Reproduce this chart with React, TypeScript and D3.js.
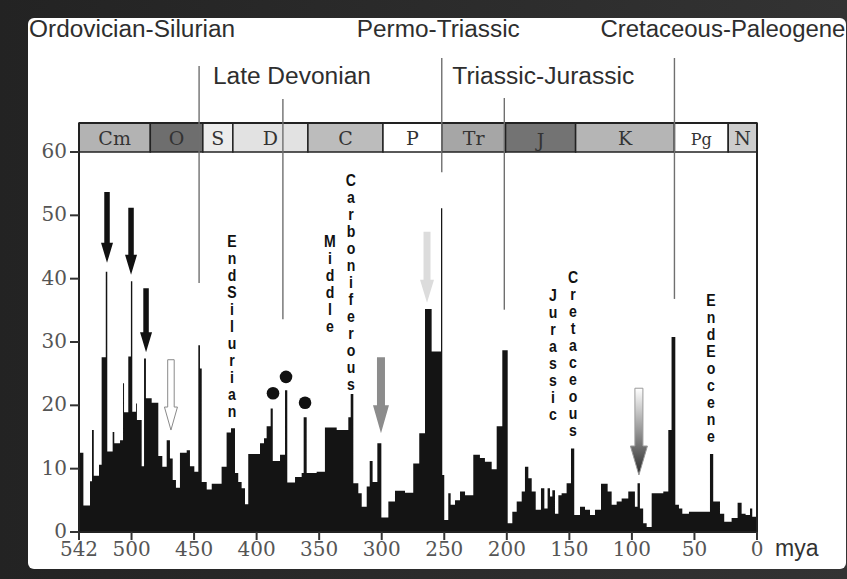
import React from 'react';
import * as d3 from 'd3';

// extinction intensity (% of genera), step starts in mya
const binStart = [
  542, 538.5, 533.2, 531.6, 530.2, 526, 523.9, 520.6, 519.4, 515.1, 513.8, 509.2, 506.8, 506, 502.6,
  500.5, 499.4, 496.4, 495.7, 491.9, 490, 488.5, 483.9, 478.6, 475.4, 471.9, 469.3, 467.1, 464.5,
  461.3, 455.9, 453.3, 449.8, 446.6, 445.3, 443.9, 439.9, 435.9, 428, 424, 420.5, 417.3, 414.7, 412,
  409.3, 406.7, 397.3, 394.1, 392, 388.8, 387.1, 381.3, 377.3, 375.5, 369.3, 364, 362.4, 360, 352,
  345.4, 336, 326.7, 324.8, 322.7, 318.7, 316, 312, 309.6, 307.3, 303.5, 300.3, 294.7, 289.4, 281.4,
  274.8, 270, 265.4, 260.1, 252.6, 251.6, 250, 246.8, 244.9, 241.4, 237.4, 233.4, 226.8, 221.5,
  217.5, 212.1, 208.1, 203.6, 199.3, 195.6, 192.1, 188.1, 185.5, 182.8, 180.1, 176.9, 172.7, 170,
  167.4, 165.5, 163.6, 161.5, 158.8, 156.2, 152.2, 148.7, 146.1, 141.5, 137.5, 133.5, 129.5, 124.7,
  119.4, 116.2, 112.2, 108.2, 102.9, 97.6, 95.5, 93.6, 91, 88.2, 84.2, 74.9, 70.9, 68.3, 65.3, 62.4,
  59.7, 54.4, 37.6, 35, 29.6, 26.2, 20.3, 15.5, 12.3, 9.1, 5.6, 3.8,
];
const extinctionPct = [
  12.5, 4.2, 8.0, 16.1, 8.9, 10.6, 27.6, 41.1, 12.7, 15.8, 14.0, 14.5, 23.5, 18.9, 27.7,
  39.6, 19.0, 20.3, 17.7, 10.4, 27.4, 21.1, 20.4, 12.0, 10.3, 14.5, 11.6, 8.2, 7.0,
  12.5, 12.9, 10.4, 9.5, 29.5, 25.8, 7.9, 6.7, 7.6, 10.3, 15.7, 16.4, 9.3, 7.9, 6.9,
  4.4, 12.3, 14.0, 14.8, 16.7, 19.5, 11.2, 12.2, 22.4, 7.8, 8.7, 9.3, 18.1, 9.3, 9.5,
  16.5, 16.1, 18.1, 21.8, 7.7, 6.1, 4.0, 7.2, 11.2, 7.9, 14.0, 2.3, 4.8, 6.5, 6.2,
  10.8, 15.6, 35.2, 28.5, 51.1, 9.0, 1.9, 6.1, 4.3, 5.0, 6.4, 5.8, 12.2, 11.7,
  11.1, 9.9, 16.7, 28.7, 1.4, 3.2, 4.8, 6.4, 10.3, 8.5, 6.4, 3.5, 6.9, 3.7,
  6.9, 5.6, 6.6, 2.9, 5.8, 6.1, 7.7, 13.2, 2.7, 4.0, 3.5, 2.7, 3.5, 7.6,
  6.4, 4.3, 4.8, 5.3, 6.4, 4.0, 7.7, 3.7, 1.4, 0.8, 6.1, 6.4, 16.1, 30.8, 4.3, 3.7,
  2.9, 3.2, 12.3, 4.8, 2.9, 1.6, 2.2, 4.6, 2.9, 2.7, 3.7, 2.4,
];

const periodNames = ['Cm', 'O', 'S', 'D', 'C', 'P', 'Tr', 'J', 'K', 'Pg', 'N'];
const periodStart = [542, 485, 443, 419, 359, 299, 252, 201, 145, 66, 23];
const periodShade = ['#b3b3b3', '#6e6e6e', '#ececec', '#e2e2e2', '#bcbcbc', '#ffffff', '#a6a6a6', '#737373', '#b5b5b5', '#ffffff', '#cdcdcd'];

const eventNames = ['Ordovician-Silurian', 'Late Devonian', 'Permo-Triassic', 'Triassic-Jurassic', 'Cretaceous-Paleogene'];
const eventMya = [446, 379, 252, 202, 66];
const eventLineEnd = [39.3, 33.6, 56.8, 35.1, 36.8];

const arrowMya = [519.6, 500.4, 488.4, 468.5, 300.6, 263.8, 94.4];
const arrowFrom = [53.7, 51.2, 38.5, 27.2, 27.6, 47.4, 22.7];
const arrowTo = [42.5, 40.6, 28.4, 16.1, 15.6, 36.2, 9.0];

const dotMya = [386.9, 376.5, 361.3];
const dotPct = [21.9, 24.5, 20.4];

const minorEvents = ['EndSilurian', 'Middle', 'Carboniferous', 'Jurassic', 'Cretaceous', 'EndEocene'];
const minorMya = [419.7, 341.4, 324.6, 163.1, 147.1, 36.8];
const minorTop = [45.9, 45.9, 55.6, 37.4, 40.3, 36.6];

const yTicks = [0, 10, 20, 30, 40, 50, 60];
const xTicks = [542, 500, 450, 400, 350, 300, 250, 200, 150, 100, 50, 0];

const W = 847;
const H = 579;
const x = d3.scaleLinear().domain([542, 0]).range([79, 757]);
const y = d3.scaleLinear().domain([0, 60]).range([532, 152]);
const barTop = 123;

function arrowPath(cx: number, y0: number, y1: number, sw: number, hw: number, hl: number) {
  return `M${cx - sw / 2},${y0}L${cx + sw / 2},${y0}L${cx + sw / 2},${y1 - hl}L${cx + hw / 2},${y1 - hl}` +
    `L${cx},${y1}L${cx - hw / 2},${y1 - hl}L${cx - sw / 2},${y1 - hl}Z`;
}

// look of each arrow, in the order of arrowMya
const arrowLook = [
  { fill: '#111', stroke: 'none', sw: 5.5, hw: 12, hl: 20 },
  { fill: '#111', stroke: 'none', sw: 5.5, hw: 12, hl: 20 },
  { fill: '#111', stroke: 'none', sw: 5.5, hw: 12, hl: 20 },
  { fill: '#fff', stroke: '#8a8a8a', sw: 6.5, hw: 13, hl: 23 },
  { fill: '#8c8c8c', stroke: 'none', sw: 8, hw: 16, hl: 28 },
  { fill: '#dcdcdc', stroke: 'none', sw: 7, hw: 14, hl: 23 },
  { fill: 'url(#fade)', stroke: '#9a9a9a', sw: 8, hw: 17, hl: 29 },
];

const labelDx = [-170, -70, -85, -52, -74];
const labelRow = [37, 84, 37, 84, 37];
const lineTop = [66, 99, 58, 98, 58];

export default function App() {
  const pts: [number, number][] = binStart.map((t, i) => [t, extinctionPct[i]]);
  pts.push([0, extinctionPct[extinctionPct.length - 1]]);
  const area = d3.area<[number, number]>()
    .x(d => x(d[0]))
    .y0(y(0))
    .y1(d => y(d[1]))
    .curve(d3.curveStepAfter);

  const sans = 'Liberation Sans, Arial, sans-serif';
  const serif = 'DejaVu Serif, serif';

  return (
    <svg width={W} height={H} style={{ position: 'absolute', left: 0, top: 0, display: 'block' }}>
      <defs>
        <linearGradient id="fade" x1="0" y1="0" x2="0" y2="1">
          <stop offset="0" stopColor="#ffffff" />
          <stop offset="1" stopColor="#2a2a2a" />
        </linearGradient>
        <linearGradient id="frame" x1="0" y1="0" x2="1" y2="0">
          <stop offset="0" stopColor="#232323" />
          <stop offset="1" stopColor="#333333" />
        </linearGradient>
      </defs>
      <rect width={W} height={H} fill="url(#frame)" />
      <rect x={28} y={18} width={818} height={551} rx={6} fill="#fff" />

      {/* data */}
      <path d={area(pts) ?? ''} fill="#141414" />

      {/* period bar */}
      {periodNames.map((p, i) => {
        const x0 = x(periodStart[i]);
        const x1 = x(i + 1 < periodStart.length ? periodStart[i + 1] : 0);
        return (
          <g key={p}>
            <rect x={x0} y={barTop} width={x1 - x0} height={y(60) - barTop} fill={periodShade[i]} stroke="#222" strokeWidth={1.5} />
            <text x={(x0 + x1) / 2} y={p === 'J' ? 147 : 145} textAnchor="middle" fontFamily={serif}
              fontSize={p === 'Pg' ? 16 : 19} fill="#333">{p}</text>
          </g>
        );
      })}

      {/* axes frame */}
      <line x1={x(542)} x2={x(542)} y1={barTop} y2={y(0)} stroke="#222" strokeWidth={2} />
      <line x1={x(0)} x2={x(0)} y1={barTop} y2={y(0)} stroke="#222" strokeWidth={2} />
      <line x1={x(542) - 1} x2={x(0) + 1} y1={y(0)} y2={y(0)} stroke="#222" strokeWidth={2} />
      <line x1={x(542)} x2={x(0)} y1={barTop} y2={barTop} stroke="#222" strokeWidth={2} />

      {yTicks.map(v => (
        <g key={'y' + v}>
          <line x1={70} x2={x(542)} y1={y(v)} y2={y(v)} stroke="#333" strokeWidth={2} />
          <text x={67} y={y(v) + 6} textAnchor="end" fontFamily={serif} fontSize={20} fill="#555">{v}</text>
        </g>
      ))}
      {xTicks.map(t => (
        <g key={'x' + t}>
          <line x1={x(t)} x2={x(t)} y1={y(0)} y2={y(0) + 8} stroke="#333" strokeWidth={2} />
          <text x={x(t)} y={556} textAnchor="middle" fontFamily={serif} fontSize={20} fill="#555">{t}</text>
        </g>
      ))}
      <text x={775} y={556} fontFamily={sans} fontSize={23} fill="#333">mya</text>

      {/* big five */}
      {eventNames.map((n, i) => {
        const lx = x(eventMya[i]);
        const fullW = [206, 158, 163, 182, 245][i];
        return (
          <g key={n}>
            <line x1={lx} x2={lx} y1={lineTop[i]} y2={y(eventLineEnd[i])} stroke="#6f6f6f" strokeWidth={1.4} />
            <text x={lx + labelDx[i]} y={labelRow[i]} fontFamily={sans} fontSize={23} fill="#2e2e2e"
              textLength={fullW} lengthAdjust="spacingAndGlyphs">{n}</text>
          </g>
        );
      })}

      {/* arrows */}
      {arrowMya.map((t, i) => {
        const a = arrowLook[i];
        return (
          <path key={'a' + i} d={arrowPath(x(t), y(arrowFrom[i]), y(arrowTo[i]), a.sw, a.hw, a.hl)}
            fill={a.fill} stroke={a.stroke} strokeWidth={1} />
        );
      })}

      {dotMya.map((t, i) => (
        <circle key={'d' + i} cx={x(t)} cy={y(dotPct[i])} r={6.3} fill="#111" />
      ))}

      {/* stacked labels */}
      {minorEvents.map((w, i) => (
        <g key={w}>
          {w.split('').map((ch, j) => (
            <text key={j} transform={`translate(${x(minorMya[i])},${y(minorTop[i]) + 6 + j * 17}) scale(0.88,1)`}
              textAnchor="middle" fontFamily={sans} fontWeight="bold" fontSize={16} fill="#111">{ch}</text>
          ))}
        </g>
      ))}
    </svg>
  );
}
